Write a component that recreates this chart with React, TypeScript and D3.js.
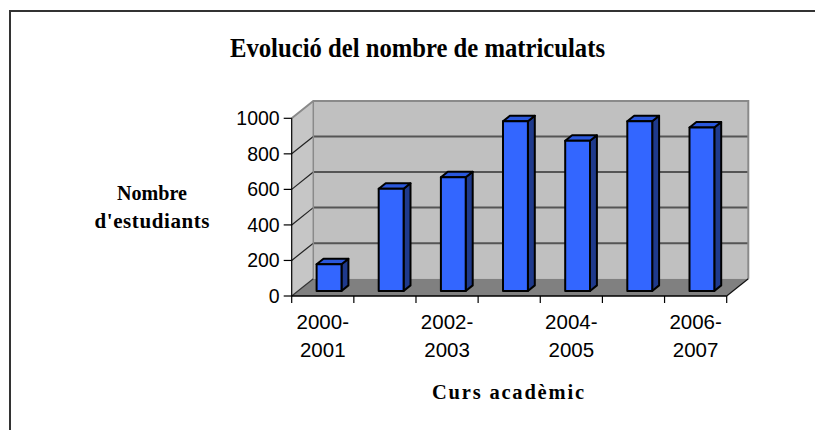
import * as d3 from 'd3'

const courses = ['2000-2001', '2001-2002', '2002-2003', '2003-2004', '2004-2005', '2005-2006', '2006-2007']
const students = [150, 575, 640, 955, 845, 955, 920]
const yTicks = [0, 200, 400, 600, 800, 1000]
const labelledCourses = ['2000-2001', '2002-2003', '2004-2005', '2006-2007']

const W = 815
const H = 430
// front-left corner of the floor, plus the depth offset of the 3D box
const ox = 291.7
const oy = 296
const depthX = 21.6
const depthY = 17.3
const barFront = 0.29
const barDepth = 0.32

type Pt = [number, number]

function pts(list: Pt[]): string {
  return list.map((p) => `${p[0].toFixed(1)},${p[1].toFixed(1)}`).join(' ')
}

export default function App(): JSX.Element {
  const x = d3.scaleBand<string>().domain(courses).range([0, 435]).paddingInner(0.6).paddingOuter(0.3)
  const y = d3.scaleLinear().domain([0, 1000]).range([0, 177.7])

  // x along the axis, v value, d depth fraction (0 front, 1 back)
  const p = (xw: number, v: number, d: number): Pt => [ox + xw + d * depthX, oy - y(v) - d * depthY]

  const full = x.range()[1]
  const step = x.step()
  const bw = x.bandwidth()

  return (
    <svg width={W} height={H} style={{ position: 'absolute', left: 0, top: 0, background: '#fff' }}>
      <rect x={10} y={11} width={W + 20} height={H + 20} fill="#fff" stroke="#333" strokeWidth={2} />

      <text
        x={230}
        y={56.5}
        fontFamily="Liberation Serif"
        fontWeight="bold"
        fontSize={28}
        textLength={375}
        lengthAdjust="spacingAndGlyphs"
      >
        Evolució del nombre de matriculats
      </text>

      {/* walls */}
      <polygon points={pts([p(0, 0, 0), p(0, 1000, 0), p(0, 1000, 1), p(0, 0, 1)])} fill="#c6c6c6" />
      <polygon points={pts([p(0, 0, 1), p(0, 1000, 1), p(full, 1000, 1), p(full, 0, 1)])} fill="#c0c0c0" />
      <polygon points={pts([p(0, 0, 0), p(full, 0, 0), p(full, 0, 1), p(0, 0, 1)])} fill="#808080" />

      {yTicks.filter((t) => t > 0 && t < 1000).map((t) => (
        <g key={`g${t}`}>
          <line x1={p(0, t, 1)[0]} y1={p(0, t, 1)[1]} x2={p(full, t, 1)[0]} y2={p(full, t, 1)[1]} stroke="#555" strokeWidth={2} />
          <line x1={p(0, t, 0)[0]} y1={p(0, t, 0)[1]} x2={p(0, t, 1)[0]} y2={p(0, t, 1)[1]} stroke="#222" strokeWidth={1.2} />
        </g>
      ))}

      <polyline
        points={pts([p(0, 1000, 0), p(0, 1000, 1), p(full, 1000, 1), p(full, 0, 1)])}
        fill="none"
        stroke="#8a8a8a"
        strokeWidth={2}
      />
      <line x1={p(0, 0, 1)[0]} y1={p(0, 0, 1)[1]} x2={p(0, 1000, 1)[0]} y2={p(0, 1000, 1)[1]} stroke="#8a8a8a" strokeWidth={1.5} />
      <line x1={p(0, 0, 0)[0]} y1={p(0, 0, 0)[1]} x2={p(0, 0, 1)[0]} y2={p(0, 0, 1)[1]} stroke="#333" strokeWidth={1.2} />
      <line x1={p(full, 0, 0)[0]} y1={p(full, 0, 0)[1]} x2={p(full, 0, 1)[0]} y2={p(full, 0, 1)[1]} stroke="#111" strokeWidth={1.2} />

      {/* bars */}
      {courses.map((c, i) => {
        const x0 = x(c) ?? 0
        const v = students[i]
        const front: Pt[] = [p(x0, 0, barFront), p(x0 + bw, 0, barFront), p(x0 + bw, v, barFront), p(x0, v, barFront)]
        const back = barFront + barDepth
        const top: Pt[] = [p(x0, v, barFront), p(x0 + bw, v, barFront), p(x0 + bw, v, back), p(x0, v, back)]
        const side: Pt[] = [p(x0 + bw, 0, barFront), p(x0 + bw, 0, back), p(x0 + bw, v, back), p(x0 + bw, v, barFront)]
        return (
          <g key={c} stroke="#000" strokeWidth={2} strokeLinejoin="round">
            <polygon points={pts(side)} fill="#1f3a8c" />
            <polygon points={pts(top)} fill="#2b58dc" />
            <polygon points={pts(front)} fill="#3366ff" />
          </g>
        )
      })}

      {/* front axes */}
      <line x1={ox} y1={oy} x2={ox} y2={oy - y(1000)} stroke="#000" strokeWidth={1.2} />
      <line x1={ox} y1={oy} x2={ox + full} y2={oy} stroke="#000" strokeWidth={1.5} />
      {yTicks.map((t) => (
        <g key={`t${t}`}>
          <line x1={ox - 8} x2={ox} y1={oy - y(t)} y2={oy - y(t)} stroke="#000" strokeWidth={1.2} />
          <text x={ox - 12} y={oy - y(t)} dy="0.36em" textAnchor="end" fontFamily="Liberation Sans" fontSize={19.5}>
            {t}
          </text>
        </g>
      ))}
      {d3.range(courses.length + 1).map((i) => (
        <line key={`c${i}`} x1={ox + i * step} x2={ox + i * step} y1={oy} y2={oy + 7} stroke="#000" strokeWidth={1.2} />
      ))}
      {labelledCourses.map((c) => {
        const cx = ox + (x(c) ?? 0) + bw / 2
        const [a, b] = c.split('-')
        return (
          <text key={c} x={cx} textAnchor="middle" fontFamily="Liberation Sans" fontSize={20.5}>
            <tspan x={cx} y={328.5}>{a}-</tspan>
            <tspan x={cx} y={357}>{b}</tspan>
          </text>
        )
      })}

      <text x={152} y={200} textAnchor="middle" fontFamily="Liberation Serif" fontWeight="bold" fontSize={21} textLength={70} lengthAdjust="spacingAndGlyphs">
        Nombre
      </text>
      <text x={152} y={227.5} textAnchor="middle" fontFamily="Liberation Serif" fontWeight="bold" fontSize={21} textLength={115} lengthAdjust="spacing">
        d'estudiants
      </text>
      <text x={432} y={399} fontFamily="Liberation Serif" fontWeight="bold" fontSize={20.5} textLength={152} lengthAdjust="spacing">
        Curs acadèmic
      </text>
    </svg>
  )
}
